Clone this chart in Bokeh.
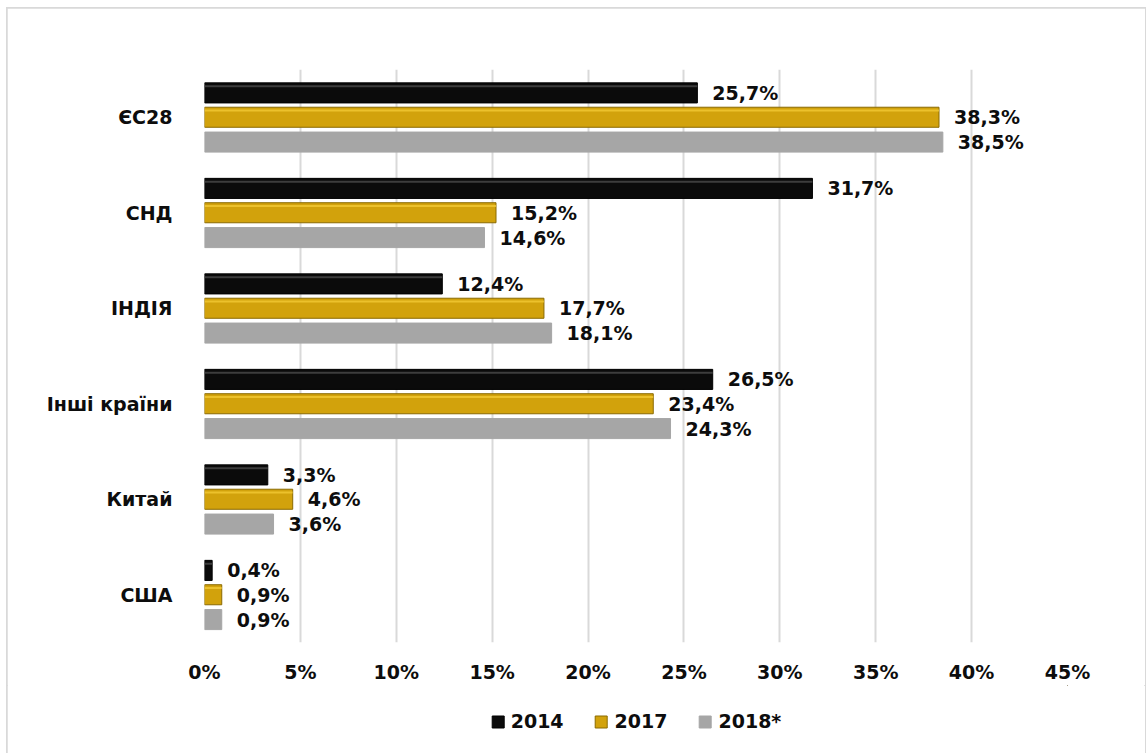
from bokeh.plotting import figure
from bokeh.layouts import column
from bokeh.models import (FactorRange, Range1d, Legend, LegendItem, FixedTicker,
                          ColumnDataSource)
from bokeh.transform import dodge
from bokeh.core.properties import value
from bokeh.embed import file_html
from bokeh.resources import INLINE

categories = ["ЄС28", "СНД", "ІНДІЯ", "Інші країни", "Китай", "США"]
years = ["2014", "2017", "2018*"]
v2014 = [25.7, 31.7, 12.4, 26.5, 3.3, 0.4]
v2017 = [38.3, 15.2, 17.7, 23.4, 4.6, 0.9]
v2018 = [38.5, 14.6, 18.1, 24.3, 3.6, 0.9]
tick_values = [0, 5, 10, 15, 20, 25, 30, 35, 40, 45]

fills = ["#0b0b0b", "#d2a20c", "#a6a6a6"]
edges = ["#000000", "#8a6a00", "#a6a6a6"]
highlights = ["#4a4a4a", "#f2c935", None]
offsets = [0.255, 0.0, -0.26]

FONT = value("DejaVu Sans")

p = figure(y_range=FactorRange(*reversed(categories)), x_range=Range1d(0, 45),
           frame_width=863, frame_height=573,
           min_border_left=197, min_border_right=78, min_border_top=61,
           min_border_bottom=40,
           output_backend="svg", toolbar_location=None)
p.outline_line_color = None
p.background_fill_color = "white"
p.border_fill_color = "white"

src = ColumnDataSource(dict(cat=categories, v2014=v2014, v2017=v2017, v2018=v2018,
                            l2014=[f"{v:.1f}".replace(".", ",") + "%" for v in v2014],
                            l2017=[f"{v:.1f}".replace(".", ",") + "%" for v in v2017],
                            l2018=[f"{v:.1f}".replace(".", ",") + "%" for v in v2018]))

# legend strip below the chart (its swatch glyphs sit outside its visible range)
lf = figure(width=1138, height=72, x_range=Range1d(0, 1), y_range=Range1d(0, 1),
            min_border=0, output_backend="svg", toolbar_location=None)
lf.axis.visible = False
lf.grid.visible = False
lf.outline_line_color = None
lf.background_fill_color = "white"
lf.border_fill_color = "white"

keys = ["2014", "2017", "2018"]
items = []
for i, k in enumerate(keys):
    p.hbar(y=dodge("cat", offsets[i], range=p.y_range), right="v" + k, left=0,
           height=0.21, source=src, fill_color=fills[i], line_color=edges[i],
           line_width=1)
    if highlights[i]:
        p.hbar(y=dodge("cat", offsets[i] + 0.07, range=p.y_range), right="v" + k, left=0,
               height=0.02, source=src, fill_color=highlights[i], line_color=None,
               fill_alpha=0.8)
    p.text(x="v" + k, y=dodge("cat", offsets[i], range=p.y_range), text="l" + k,
           source=src, x_offset=15, text_baseline="middle", text_align="left",
           text_font=FONT, text_font_style="bold", text_font_size="19px",
           text_color="#0d0d0d")
    lr = lf.hbar(y=[5], right=[3], left=2, height=0.1, fill_color=fills[i],
                 line_color=edges[i])
    items.append(LegendItem(label=years[i], renderers=[lr]))

legend = Legend(items=items, orientation="horizontal", location="center",
                border_line_color=None, background_fill_alpha=0,
                label_text_font="DejaVu Sans", label_text_font_style="bold",
                label_text_font_size="19px", label_text_color="#0d0d0d",
                glyph_width=15, glyph_height=15, label_standoff=6, spacing=30,
                padding=0, margin=0)
lf.add_layout(legend)

p.xgrid.ticker = FixedTicker(ticks=tick_values)
p.xgrid.grid_line_color = "#d9d9d9"
p.xgrid.grid_line_width = 2
p.ygrid.grid_line_color = None

p.xaxis.ticker = FixedTicker(ticks=tick_values)
p.xaxis.major_label_overrides = {t: f"{t}%" for t in tick_values}
for ax in (p.xaxis, p.yaxis):
    ax.axis_line_color = None
    ax.major_tick_line_color = None
    ax.minor_tick_line_color = None
    ax.major_label_text_font = "DejaVu Sans"
    ax.major_label_text_font_style = "bold"
    ax.major_label_text_font_size = "19px"
    ax.major_label_text_color = "#0d0d0d"
p.xaxis.major_label_standoff = 12
p.yaxis.major_label_standoff = 26

layout = column(p, lf, spacing=0)
layout.margin = (8, 0, 0, 7)
layout.styles = {"outline": "2px solid #d9d9d9", "outline-offset": "-1px"}

open("out.html", "w").write(file_html(layout, INLINE))
